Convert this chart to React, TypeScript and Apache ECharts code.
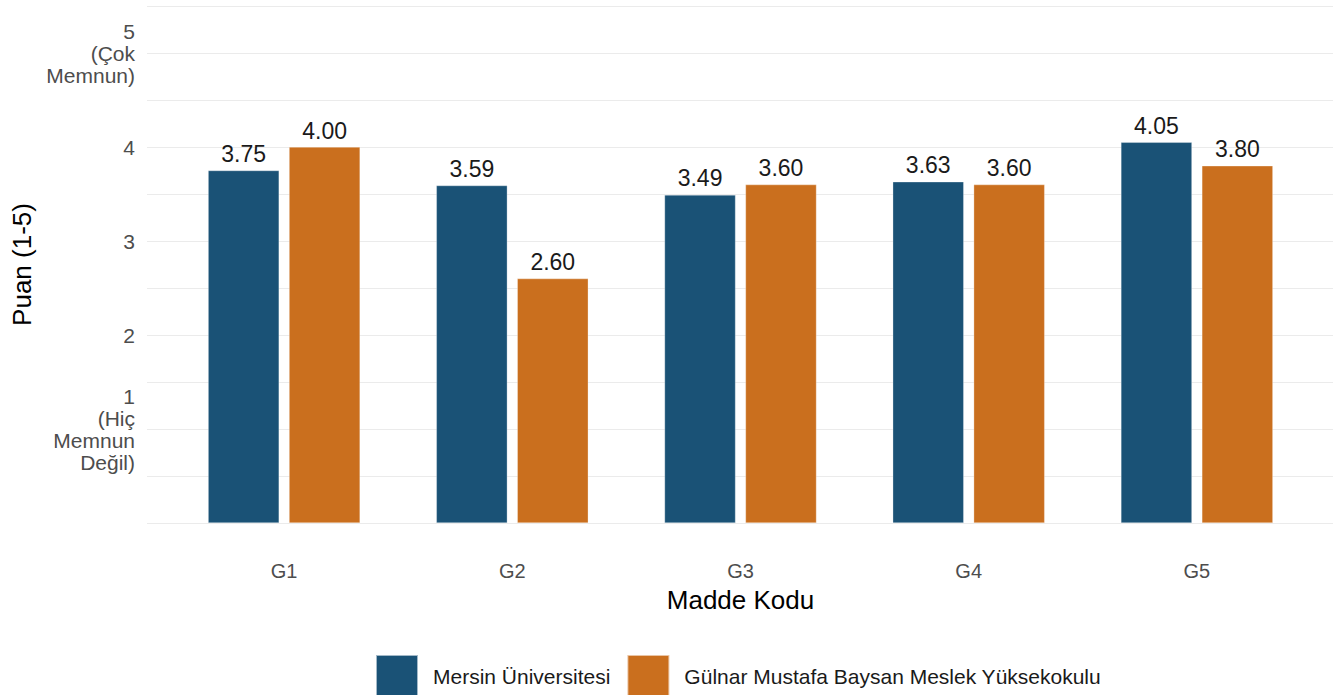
import React, { useEffect, useRef } from "react";
import * as echarts from "echarts";

const categories = ["G1", "G2", "G3", "G4", "G5"];
const mersinValues = [3.75, 3.59, 3.49, 3.63, 4.05];
const gulnarValues = [4.0, 2.6, 3.6, 3.6, 3.8];
const seriesNames = ["Mersin Üniversitesi", "Gülnar Mustafa Baysan Meslek Yüksekokulu"];
const yTickLabels: Record<string, string> = {
  "1": "1\n(Hiç\nMemnun\nDeğil)",
  "2": "2",
  "3": "3",
  "4": "4",
  "5": "5\n(Çok\nMemnun)",
};

const FONT = "Liberation Sans, Arial, sans-serif";
const BLUE = "#1A5276";
const ORANGE = "#CA6F1E";

export default function App() {
  const ref = useRef<HTMLDivElement>(null);
  useEffect(() => {
    if (!ref.current) return;
    const chart = echarts.init(ref.current, null, { renderer: "svg" });
    const labelCfg = {
      show: true,
      position: "top" as const,
      distance: 5,
      fontSize: 23,
      color: "#1a1a1a",
      fontFamily: FONT,
      formatter: (p: any) => Number(p.value).toFixed(2),
    };
    chart.setOption({
      animation: false,
      backgroundColor: "#ffffff",
      textStyle: { fontFamily: FONT },
      grid: [
        { left: 170, right: 32, top: 6, bottom: 172, containLabel: false },
        { left: 147, right: 10, top: 6, bottom: 172, containLabel: false },
      ],
      xAxis: [
        {
          type: "category",
          gridIndex: 0,
          data: categories,
          axisLine: { show: false },
          axisTick: { show: false },
          axisLabel: { color: "#4d4d4d", fontSize: 20, margin: 38, fontFamily: FONT },
          name: "Madde Kodu",
          nameLocation: "middle",
          nameGap: 64,
          nameTextStyle: { color: "#000000", fontSize: 26, fontFamily: FONT },
        },
        {
          type: "value",
          gridIndex: 1,
          min: 0,
          max: 1,
          show: false,
        },
      ],
      yAxis: [
        {
          type: "value",
          gridIndex: 0,
          min: 0,
          max: 5.5,
          interval: 0.5,
          axisLabel: { show: false },
          axisLine: { show: false },
          axisTick: { show: false },
          splitLine: { show: false },
        },
        {
          type: "value",
          gridIndex: 1,
          min: 0,
          max: 5.5,
          interval: 0.5,
          axisLine: { show: false },
          axisTick: { show: false },
          splitLine: { show: true, lineStyle: { color: "#ebebeb", width: 1.2 } },
          axisLabel: {
            color: "#4d4d4d",
            fontSize: 21,
            lineHeight: 22,
            margin: 12,
            fontFamily: FONT,
            align: "right",
            formatter: (v: number) => {
              const k = String(v);
              return yTickLabels[k] ?? "";
            },
          },
          name: "Puan (1-5)",
          nameLocation: "middle",
          nameGap: 112,
          nameTextStyle: { color: "#000000", fontSize: 26, fontFamily: FONT },
        },
      ],
      legend: {
        left: 375,
        top: 654,
        padding: 0,
        orient: "horizontal",
        itemWidth: 42,
        itemHeight: 42,
        itemGap: 16,
        icon: "rect",
        data: seriesNames,
        textStyle: { fontSize: 21, color: "#1a1a1a", fontFamily: FONT, padding: [0, 0, 0, 10] },
      },
      series: [
        {
          name: seriesNames[0],
          type: "bar",
          xAxisIndex: 0,
          yAxisIndex: 0,
          data: mersinValues,
          barWidth: 71,
          barGap: "14%",
          itemStyle: { color: BLUE, borderColor: "rgba(255,255,255,0.6)", borderWidth: 0.5 },
          label: labelCfg,
        },
        {
          name: seriesNames[1],
          type: "bar",
          xAxisIndex: 0,
          yAxisIndex: 0,
          data: gulnarValues,
          barWidth: 71,
          barGap: "14%",
          itemStyle: { color: ORANGE, borderColor: "rgba(255,255,255,0.6)", borderWidth: 0.5 },
          label: labelCfg,
        },
      ],
    });
    return () => chart.dispose();
  }, []);
  return (
    <div
      ref={ref}
      style={{ position: "fixed", left: 0, top: 0, width: 1343, height: 695 }}
    />
  );
}
